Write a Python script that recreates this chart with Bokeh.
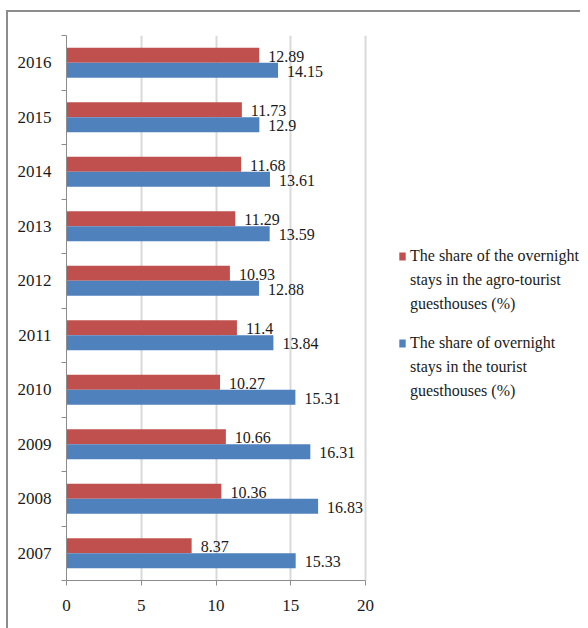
from bokeh.plotting import figure
from bokeh.models import ColumnDataSource, FixedTicker, Legend, LegendItem, Range1d
from bokeh.transform import dodge
from bokeh.core.properties import value
from bokeh.embed import file_html
from bokeh.resources import INLINE

years = ["2007", "2008", "2009", "2010", "2011", "2012", "2013", "2014", "2015", "2016"]
agro = [8.37, 10.36, 10.66, 10.27, 11.4, 10.93, 11.29, 11.68, 11.73, 12.89]
tourist = [15.33, 16.83, 16.31, 15.31, 13.84, 12.88, 13.59, 13.61, 12.9, 14.15]
agro_labels = ["8.37", "10.36", "10.66", "10.27", "11.4", "10.93", "11.29", "11.68", "11.73", "12.89"]
tourist_labels = ["15.33", "16.83", "16.31", "15.31", "13.84", "12.88", "13.59", "13.61", "12.9", "14.15"]
agro_name = ["The share of the overnight", "stays in the agro-tourist", "guesthouses (%)"]
tourist_name = ["The share of overnight", "stays in the tourist", "guesthouses (%)"]
x_ticks = [0, 5, 10, 15, 20]

RED = "#C0504D"
BLUE = "#4F81BD"
FONT = "Liberation Serif"

# the value axis (0..20) spans 299 px; the frame is widened to hold the legend
AXIS_PX = 299
FRAME_W = 514
x_end = x_ticks[-1] * FRAME_W / AXIS_PX

ypos = list(range(len(years)))
src = ColumnDataSource(dict(y=ypos, agro=agro, tourist=tourist,
                            agro_lbl=agro_labels, tourist_lbl=tourist_labels))

p = figure(width=572, height=616, output_backend="svg", toolbar_location=None,
           x_range=Range1d(0, x_end), y_range=Range1d(-0.5, len(years) - 0.5),
           frame_width=FRAME_W, frame_height=545,
           min_border_left=58, min_border_right=0, min_border_top=23, min_border_bottom=48)
p.margin = (10, 0, 0, 6)
p.styles = {"border-left": "2px solid #8c8c8c", "border-top": "2px solid #8c8c8c"}

hb = 0.275
r_red = p.hbar(y=dodge("y", hb / 2), right="agro", left=0, height=hb, source=src,
               fill_color=RED, line_color=None)
r_blue = p.hbar(y=dodge("y", -hb / 2), right="tourist", left=0, height=hb, source=src,
                fill_color=BLUE, line_color=None)
r_blank = p.hbar(y=[], right=[], left=0, height=hb, fill_alpha=0, line_alpha=0)

p.text(x="agro", y=dodge("y", hb / 2), text="agro_lbl", source=src, x_offset=9, y_offset=1,
       text_font=value(FONT), text_font_size="16px", text_color="#1a1a1a",
       text_baseline="middle", text_align="left")
p.text(x="tourist", y=dodge("y", -hb / 2), text="tourist_lbl", source=src, x_offset=9, y_offset=1,
       text_font=value(FONT), text_font_size="16px", text_color="#1a1a1a",
       text_baseline="middle", text_align="left")

# axes
p.xaxis.ticker = FixedTicker(ticks=x_ticks)
p.xaxis.bounds = (x_ticks[0], x_ticks[-1])
p.xaxis.minor_tick_line_color = None
p.xaxis.major_tick_in = 0
p.xaxis.major_tick_out = 5
p.xaxis.axis_line_color = "#8c8c8c"
p.xaxis.major_tick_line_color = "#8c8c8c"
p.xaxis.major_label_text_font = FONT
p.xaxis.major_label_text_font_size = "17px"
p.xaxis.major_label_text_color = "#1a1a1a"
p.xaxis.major_label_standoff = 14

boundaries = [i - 0.5 for i in range(len(years) + 1)]
p.yaxis.ticker = FixedTicker(ticks=ypos, minor_ticks=boundaries)
p.yaxis.major_label_overrides = {i: y for i, y in enumerate(years)}
p.yaxis.major_tick_in = 0
p.yaxis.major_tick_out = 0
p.yaxis.minor_tick_in = 0
p.yaxis.minor_tick_out = 5
p.yaxis.minor_tick_line_color = "#8c8c8c"
p.yaxis.axis_line_color = "#8c8c8c"
p.yaxis.major_label_text_font = FONT
p.yaxis.major_label_text_font_size = "17px"
p.yaxis.major_label_text_color = "#1a1a1a"
p.yaxis.major_label_standoff = 10

p.xgrid.grid_line_color = "#d9d9d9"
p.xgrid.grid_line_width = 2
p.ygrid.grid_line_color = None
p.outline_line_color = None


def make_legend(lines, renderer, loc):
    items = [LegendItem(label=lines[0], renderers=[renderer])]
    items += [LegendItem(label=t, renderers=[r_blank]) for t in lines[1:]]
    lg = Legend(items=items, location=loc)
    lg.label_text_font = FONT
    lg.label_text_font_size = "16px"
    lg.label_text_color = "#1a1a1a"
    lg.label_height = 24
    lg.glyph_width = 8
    lg.glyph_height = 10
    lg.label_standoff = 4
    lg.spacing = 0
    lg.border_line_color = None
    lg.background_fill_alpha = 0
    lg.padding = 0
    lg.margin = 0
    return lg


p.add_layout(make_legend(agro_name, r_red, (332, 264)), "center")
p.add_layout(make_legend(tourist_name, r_blue, (332, 177)), "center")

open("out.html", "w").write(file_html(p, INLINE))
